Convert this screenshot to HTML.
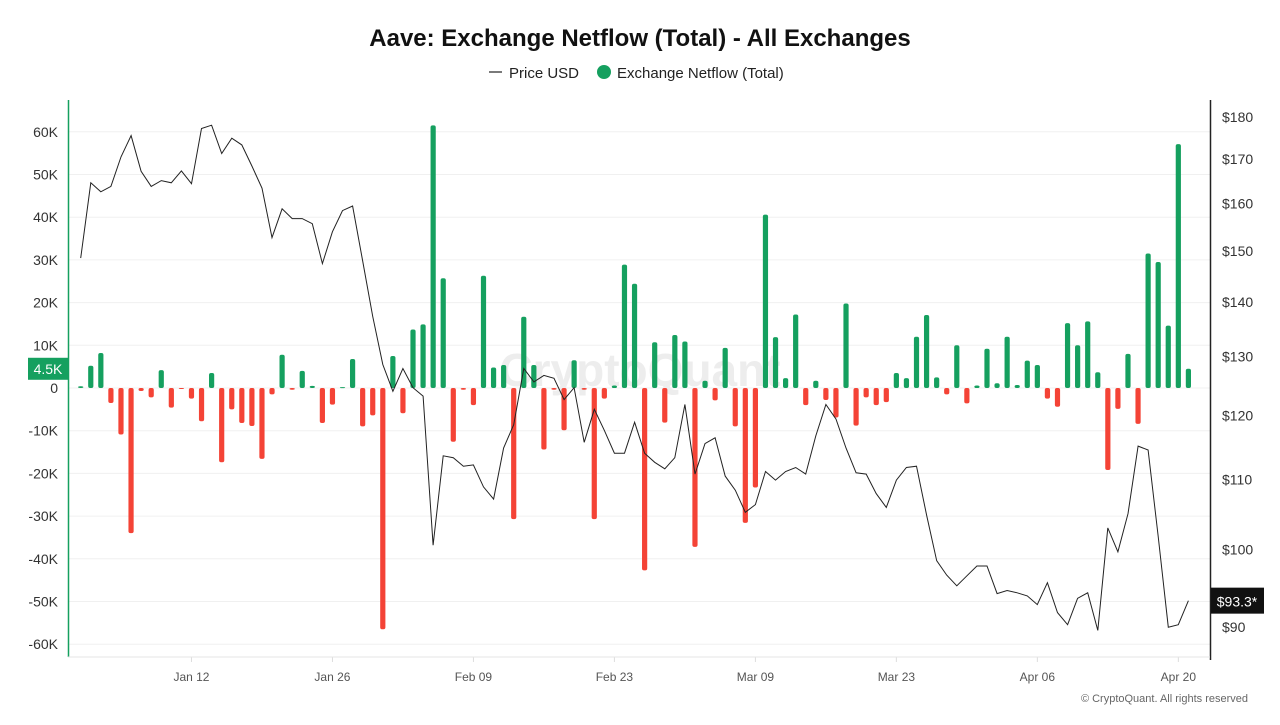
<!DOCTYPE html>
<html><head><meta charset="utf-8"><style>
body{margin:0;background:#fff;font-family:"Liberation Sans",sans-serif;}
svg text{font-family:"Liberation Sans",sans-serif;}
</style></head><body>
<svg id="chart" width="1280" height="720" viewBox="0 0 1280 720" xmlns="http://www.w3.org/2000/svg">
<rect width="1280" height="720" fill="#fff"/>
<text x="640" y="46" text-anchor="middle" font-size="24" font-weight="bold" fill="#111">Aave: Exchange Netflow (Total) - All Exchanges</text>
<g>
<line x1="489" y1="72" x2="502" y2="72" stroke="#222" stroke-width="1.2"/>
<text x="509" y="78" font-size="15" fill="#222">Price USD</text>
<circle cx="604" cy="72" r="7" fill="#15a05f"/>
<text x="617" y="78" font-size="15" fill="#222">Exchange Netflow (Total)</text>
</g>
<text x="640" y="386" text-anchor="middle" font-size="46" font-weight="bold" fill="#ededed">CryptoQuant</text>
<g id="grid"></g>
<g id="bars"></g>
<g id="line"></g>
<g id="axes"></g>
<text x="1248" y="702" text-anchor="end" font-size="11" fill="#666">© CryptoQuant. All rights reserved</text>
</svg>
<script>
const days = 111; // Jan 1 .. Apr 21
const netflow = [0.4,5.2,8.2,-3.5,-10.9,-34,-0.7,-2.2,4.2,-4.6,-0.2,-2.5,-7.8,3.5,-17.4,-5,-8.2,-8.9,-16.6,-1.5,7.8,-0.4,4,0.5,-8.2,-3.9,0.2,6.8,-9,-6.4,-56.5,
7.5,-5.9,13.7,14.9,61.5,25.7,-12.6,-0.4,-4,26.3,4.8,5.4,-30.7,16.7,5.4,-14.4,-0.4,-9.9,6.5,-0.4,-30.7,-2.5,0.6,28.9,24.4,-42.7,10.7,-8.1,
12.4,10.9,-37.2,1.7,-2.9,9.4,-9,-31.6,-23.3,40.6,11.9,2.3,17.2,-4,1.7,-2.8,-6.9,19.8,-8.8,-2.2,-4,-3.3,3.5,2.3,12,17.1,2.5,-1.5,10,-3.6,0.6,
9.2,1.1,12,0.7,6.4,5.4,-2.5,-4.4,15.2,10,15.6,3.7,-19.2,-4.9,8,-8.4,31.5,29.5,14.6,57.1,4.5];
const price = [148.6,164.6,162.6,163.8,170.5,175.5,167.2,163.8,165.1,164.6,167.3,164.4,177.2,178.0,171.3,174.9,173.3,168.4,163.4,152.8,158.9,156.8,156.8,155.7,147.5,154.0,158.5,159.5,148,137.3,128.6,
124.0,127.9,124.6,123.2,100.6,113.6,113.3,112.0,112.2,108.9,107.1,114.8,118.5,127.9,125.6,126.7,126.2,122.6,124.6,115.7,121.0,117.6,114.0,114.0,118.9,114.0,112.6,111.6,
113.3,121.8,110.8,115.5,116.4,110.5,108.4,105.2,106.3,111.2,109.9,111.2,111.8,110.8,116.7,121.8,119.4,114.8,111.0,110.8,107.9,105.9,109.9,111.8,112.0,104.8,98.5,96.6,95.2,96.5,97.8,
97.8,94.2,94.6,94.3,93.9,92.8,95.6,91.8,90.3,93.6,94.3,89.6,103.0,99.7,105.0,115.1,114.5,101.8,90.0,90.3,93.3];
const leftTicks = [60,50,40,30,20,10,0,-10,-20,-30,-40,-50,-60];
const leftTickLabels = ["60K","50K","40K","30K","20K","10K","0","-10K","-20K","-30K","-40K","-50K","-60K"];
const rightTicks = [180,170,160,150,140,130,120,110,100,90];
const xTickDays = [11,25,39,53,67,81,95,109];
const xTickLabels = ["Jan 12","Jan 26","Feb 09","Feb 23","Mar 09","Mar 23","Apr 06","Apr 20"];

const NS="http://www.w3.org/2000/svg";
function mk(tag,attrs,parent,text){const e=document.createElementNS(NS,tag);for(const k in attrs)e.setAttribute(k,attrs[k]);if(text!==undefined)e.textContent=text;parent.appendChild(e);return e;}
const x = i => 80.7 + i*10.07;
const yL = v => 388 - v*4.27;          // v in thousands
const yR = p => 117 + Math.log(180/p)*736;

const grid=document.getElementById('grid'), bars=document.getElementById('bars'), lineG=document.getElementById('line'), axes=document.getElementById('axes');
leftTicks.forEach((t,i)=>{
  const gl=mk('line',{x1:68,x2:1210,y1:yL(t),y2:yL(t),stroke:'#f0f0f0','stroke-width':1},grid);
  
  
  const tl=mk('text',{x:58,y:yL(t)+5,'text-anchor':'end','font-size':14,fill:'#333'},axes,leftTickLabels[i]);
  
  
});
rightTicks.forEach(p=>{
  const tl=mk('text',{x:1222,y:yR(p)+5,'font-size':14,fill:'#333'},axes,'$'+p);
  
  
});
xTickDays.forEach((d,i)=>{
  const tk=mk('line',{x1:x(d),x2:x(d),y1:657,y2:662,stroke:'#ddd'},axes);
  
  
  const tl=mk('text',{x:x(d),y:681,'text-anchor':'middle','font-size':12,fill:'#555'},axes,xTickLabels[i]);
  
  
});
netflow.forEach((v,i)=>{
  const y0=yL(0), y1=yL(v);
  const b=mk('rect',{x:x(i)-2.6,y:Math.min(y0,y1),width:5.2,height:Math.max(1,Math.abs(y1-y0)),rx:2,fill:v>=0?'#15a05f':'#f44336'},bars);
  
  
});
const pts=price.map((p,i)=>x(i).toFixed(1)+','+yR(p).toFixed(1)).join(' ');
const pl=mk('polyline',{points:pts,fill:'none',stroke:'#222','stroke-width':1},lineG);



const la=mk('line',{x1:68.5,x2:68.5,y1:100,y2:657,stroke:'#15a05f','stroke-width':1.5},axes);


const ra=mk('line',{x1:1210.5,x2:1210.5,y1:100,y2:660,stroke:'#222','stroke-width':1.5},axes);


const ba=mk('line',{x1:68,x2:1210,y1:657,y2:657,stroke:'#e4e4e4'},axes);



const lastN=netflow[netflow.length-1], lastP=price[price.length-1];
const lb=mk('rect',{x:28,y:yL(lastN)-11,width:40,height:22,fill:'#15a05f'},axes);


const lbt=mk('text',{x:48,y:yL(lastN)+5,'text-anchor':'middle','font-size':14,fill:'#fff'},axes,lastN.toFixed(1)+'K');


const rb=mk('rect',{x:1211,y:yR(lastP)-13,width:53,height:26,fill:'#111'},axes);


const rbt=mk('text',{x:1237,y:yR(lastP)+6,'text-anchor':'middle','font-size':14,fill:'#fff'},axes,'$'+lastP.toFixed(1)+'*');


</script>
</body></html>
